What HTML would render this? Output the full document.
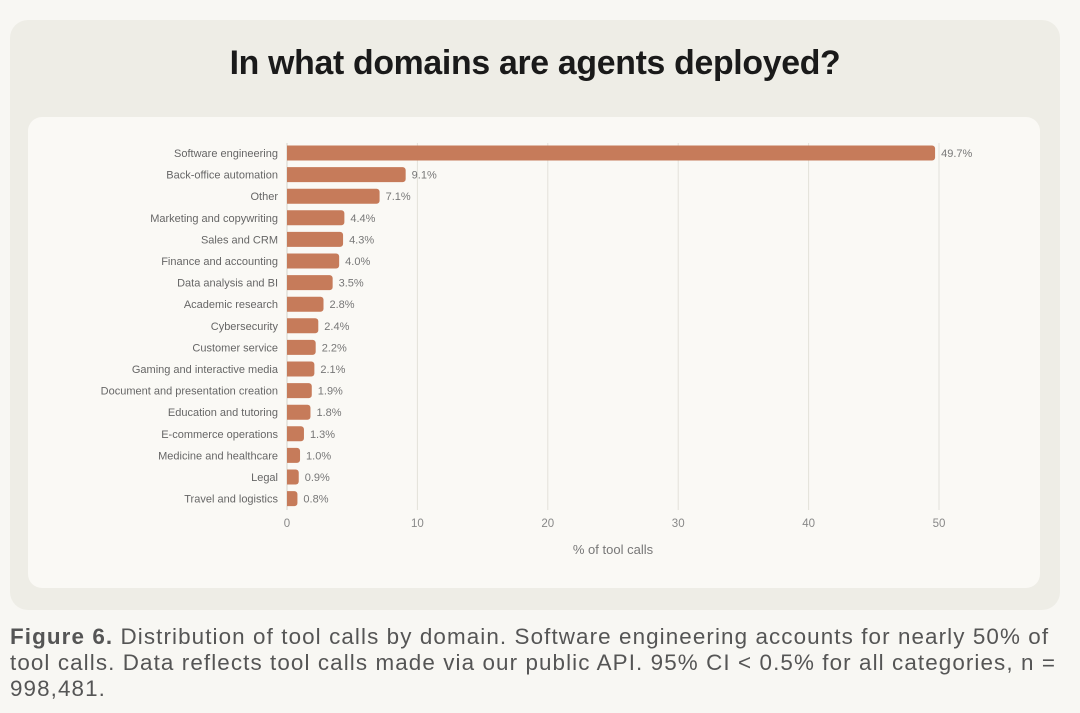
<!DOCTYPE html>
<html><head><meta charset="utf-8">
<style>
html,body{margin:0;padding:0;background:#f8f7f3;width:1080px;height:713px;overflow:hidden;font-family:"Liberation Sans",sans-serif;}
#card{position:absolute;left:10px;top:20px;width:1050px;height:590px;background:#eeede6;border-radius:18px;}
#title{position:absolute;left:0;top:44px;width:1070px;text-align:center;font-size:33.8px;font-weight:bold;color:#1a1a1a;letter-spacing:-0.3px;}
#panel{position:absolute;left:28px;top:117px;width:1012px;height:471px;background:#faf9f5;border-radius:14px;}
svg{position:absolute;left:0;top:0;}
#caption{position:absolute;left:10px;top:624px;width:1070px;font-size:22.4px;line-height:26px;color:#555;letter-spacing:1.1px;white-space:nowrap;}
</style></head><body>
<div id="card"></div>
<div id="title">In what domains are agents deployed?</div>
<div id="panel"></div>
<svg id="chart" width="1080" height="713"></svg>
<div id="caption"><b>Figure 6.</b> Distribution of tool calls by domain. Software engineering accounts for nearly 50% of<br>tool calls. Data reflects tool calls made via our public API. 95% CI &lt; 0.5% for all categories, n =<br>998,481.</div>
<script>
const categories=["Software engineering","Back-office automation","Other","Marketing and copywriting","Sales and CRM","Finance and accounting","Data analysis and BI","Academic research","Cybersecurity","Customer service","Gaming and interactive media","Document and presentation creation","Education and tutoring","E-commerce operations","Medicine and healthcare","Legal","Travel and logistics"];
const values=[49.7,9.1,7.1,4.4,4.3,4.0,3.5,2.8,2.4,2.2,2.1,1.9,1.8,1.3,1.0,0.9,0.8];
const ticks=[0,10,20,30,40,50];
const NS="http://www.w3.org/2000/svg";
const svg=document.getElementById('chart');
const x0=287,pxPer=13.04,y0=153,step=21.6,bh=15;
const xs=v=>x0+v*pxPer;
const ys=i=>y0+i*step;
function mk(tag,attrs,txt){const e=document.createElementNS(NS,tag);for(const k in attrs)e.setAttribute(k,attrs[k]);if(txt!=null)e.textContent=txt;svg.appendChild(e);return e;}
ticks.forEach(t=>{
  const g=mk('line',{x1:xs(t),x2:xs(t),y1:143,y2:510,stroke:t===0?'#d5d3cc':'#e3e1da','stroke-width':1});
  
  
  const l=mk('text',{x:xs(t),y:527,'text-anchor':'middle','font-size':11.5,fill:'#888'},t);
  
  
});
categories.forEach((c,i)=>{
  const y=ys(i);
  const lab=mk('text',{x:278,y:y+4,'text-anchor':'end','font-size':11,fill:'#666'},c);
  
  
  const w=Math.max(values[i]*pxPer,3);
  const b=mk('path',{d:`M${x0},${y-bh/2}h${w-3}a3,3 0 0 1 3,3v${bh-6}a3,3 0 0 1 -3,3h${-(w-3)}z`,fill:'#c67b5a'});
  
  
  const v=mk('text',{x:xs(values[i])+6,y:y+4,'font-size':11,fill:'#777'},values[i].toFixed(1)+'%');
  
  
});
const at=mk('text',{x:613,y:554,'text-anchor':'middle','font-size':13,fill:'#777'},'% of tool calls');


</script>
</body></html>
